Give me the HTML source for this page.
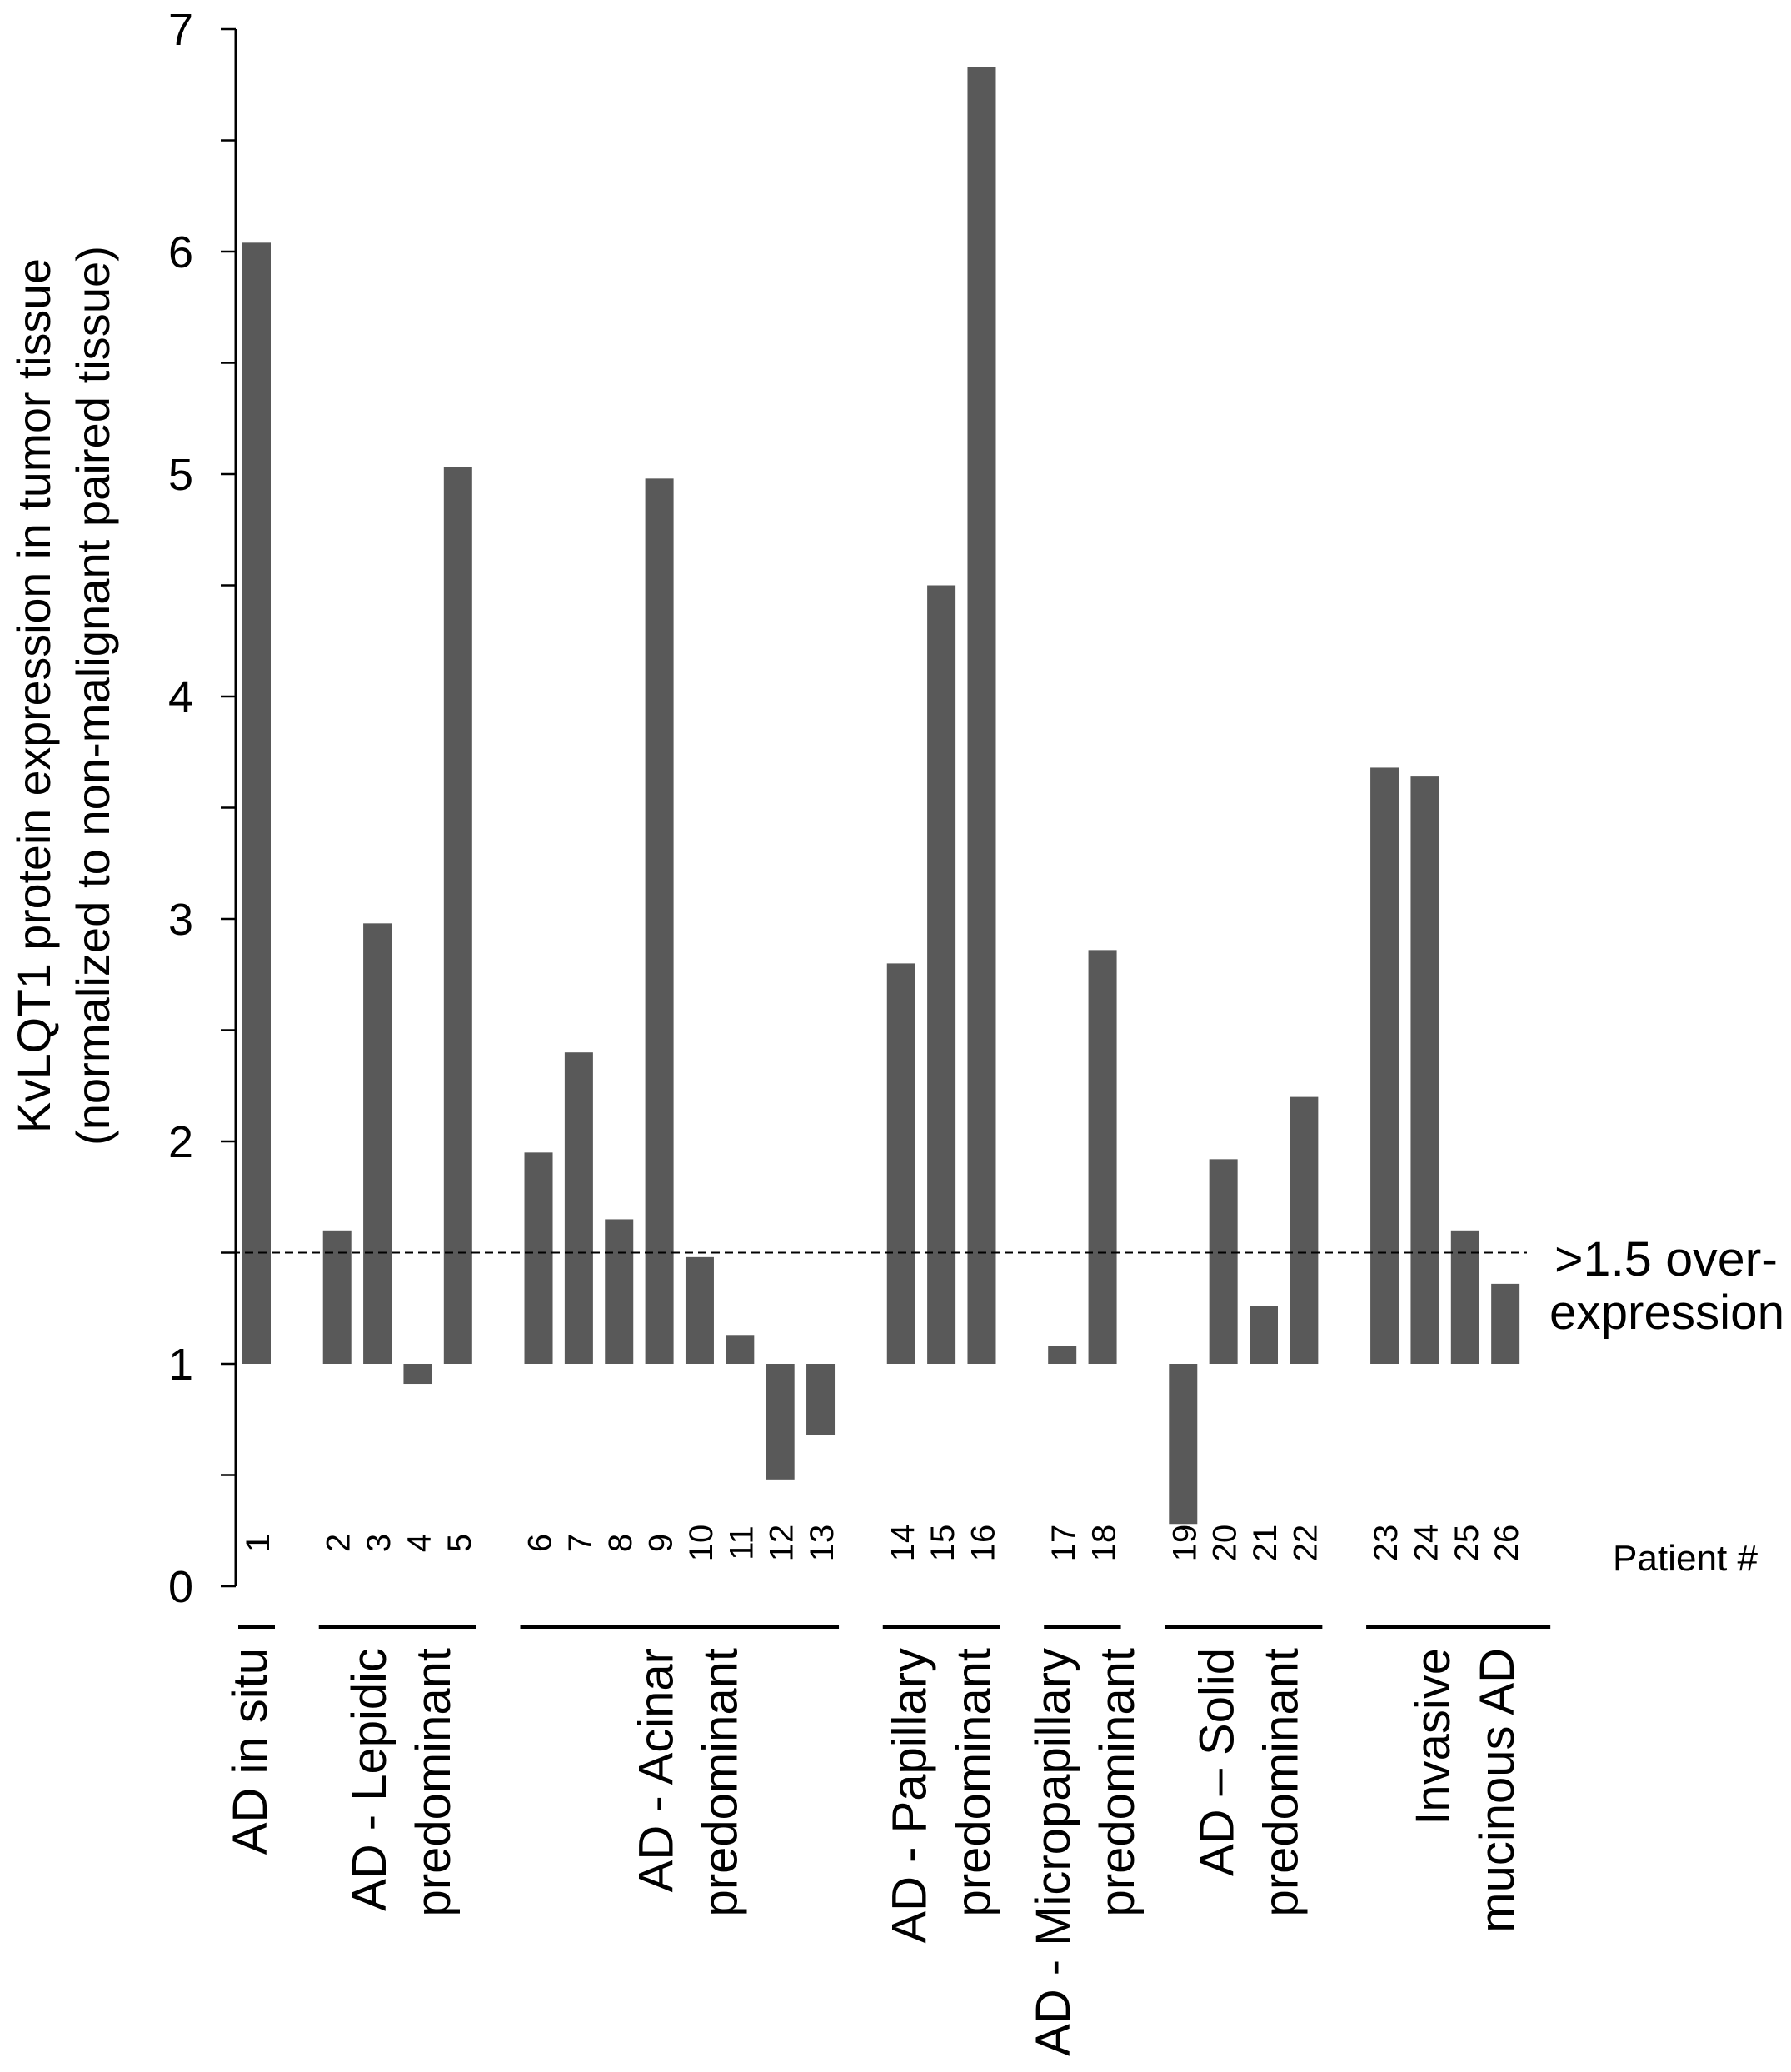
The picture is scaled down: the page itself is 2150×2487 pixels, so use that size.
<!DOCTYPE html>
<html><head><meta charset="utf-8"><style>
html,body{margin:0;padding:0;background:#fff;}
svg{display:block;font-family:"Liberation Sans",Arial,sans-serif;}
</style></head>
<body>
<svg id="chart" width="2150" height="2487" viewBox="0 0 2150 2487" xmlns="http://www.w3.org/2000/svg">
<rect width="2150" height="2487" fill="#fff"/>
<g id="ytitle" font-size="56" fill="#000" text-anchor="middle">
  <text transform="translate(60,835) rotate(-90)" textLength="1050" lengthAdjust="spacingAndGlyphs">KvLQT1 protein expression in tumor tissue</text>
  <text transform="translate(131,835) rotate(-90)" textLength="1080" lengthAdjust="spacingAndGlyphs">(normalized to non-malignant paired tissue)</text>
</g>
<g id="axis"></g>
<g id="bars"></g>
<g id="pnums"></g>
<g id="groups"></g>
<line x1="278" x2="1833" y1="0" y2="0" id="thr" stroke="#000" stroke-width="2" stroke-dasharray="10,6"/>
<g font-size="58" text-anchor="middle" fill="#000">
  <text x="2000" y="1531" textLength="268" lengthAdjust="spacingAndGlyphs">&gt;1.5 over-</text>
  <text x="2001" y="1595" textLength="282" lengthAdjust="spacingAndGlyphs">expression</text>
</g>
<text x="1936" y="1885" font-size="44" textLength="174" lengthAdjust="spacingAndGlyphs">Patient #</text>
</svg>
<script>
const patients = ["1","2","3","4","5","6","7","8","9","10","11","12","13","14","15","16","17","18","19","20","21","22","23","24","25","26"];
const values = [6.04,1.6,2.98,0.91,5.03,1.95,2.4,1.65,4.98,1.48,1.13,0.48,0.68,2.8,4.5,6.83,1.08,2.86,0.28,1.92,1.26,2.2,3.68,3.64,1.6,1.36];
const slots = [0,2,3,4,5,7,8,9,10,11,12,13,14,16,17,18,20,21,23,24,25,26,28,29,30,31];
const yTicks = [0,1,2,3,4,5,6,7];
const baseline = 1;
const threshold = 1.5;
const groupNames = [["AD in situ"],["AD - Lepidic","predominant"],["AD - Acinar","predominant"],["AD - Papillary","predominant"],["AD - Micropapillary","predominant"],["AD \u2013 Solid","predominant"],["Invasive","mucinous AD"]];
const groupStart = [0,2,7,16,20,23,28];
const groupEnd = [0,5,14,18,21,26,31];

const NS="http://www.w3.org/2000/svg";
const labelShift=[-8,4,10,0,3,6,24];
const bracketExtra=[0,0,0,0,0,0,32];
function y(v){return 1904-(v/7)*1869;}
function x(s){return 308+48.36*s;}
function mk(tag,attrs,parent,txt){const e=document.createElementNS(NS,tag);for(const k in attrs)e.setAttribute(k,attrs[k]);if(txt!==undefined)e.textContent=txt;parent.appendChild(e);return e;}

const ax=document.getElementById('axis');
const al=mk('line',{x1:283,x2:283,y1:y(7),y2:y(0),stroke:'#000','stroke-width':3},ax);


for(let v=0;v<=7;v+=0.5){
  const t=mk('line',{x1:265,x2:283,y1:y(v),y2:y(v),stroke:'#000','stroke-width':2.5},ax);
  
  
}
yTicks.forEach(v=>{
  const t=mk('text',{x:232,y:y(v)+19,'font-size':54,'text-anchor':'end',fill:'#000'},ax,String(v));
  
  
});

const bg=document.getElementById('bars');
values.forEach((v,i)=>{
  const top=Math.min(y(v),y(baseline)),h=Math.abs(y(v)-y(baseline));
  const r=mk('rect',{x:x(slots[i])-17,y:top,width:34,height:h,fill:'#595959'},bg);
  
  
});
const thr=document.getElementById('thr');
thr.setAttribute('y1',y(threshold));thr.setAttribute('y2',y(threshold));

const pn=document.getElementById('pnums');
patients.forEach((p,i)=>{
  const t=mk('text',{transform:`translate(${x(slots[i])+15},1852) rotate(-90)`,'font-size':40,'text-anchor':'middle',fill:'#000'},pn,p);
  
  
});

const gg=document.getElementById('groups');
groupNames.forEach((lines,g)=>{
  const x1=x(groupStart[g])-22,x2=x(groupEnd[g])+22;
  const l=mk('line',{x1:x1,x2:x2+bracketExtra[g],y1:1953,y2:1953,stroke:'#000','stroke-width':4},gg);
  
  
  const cx=(x1+x2)/2+labelShift[g];
  const n=lines.length;
  lines.forEach((s,k)=>{
    const bx=cx+(k-(n-1)/2)*77+20;
    const t=mk('text',{transform:`translate(${bx},1978) rotate(-90)`,'font-size':58,'text-anchor':'end',fill:'#000'},gg,s);
    
    
  });
});
</script>
</body></html>
